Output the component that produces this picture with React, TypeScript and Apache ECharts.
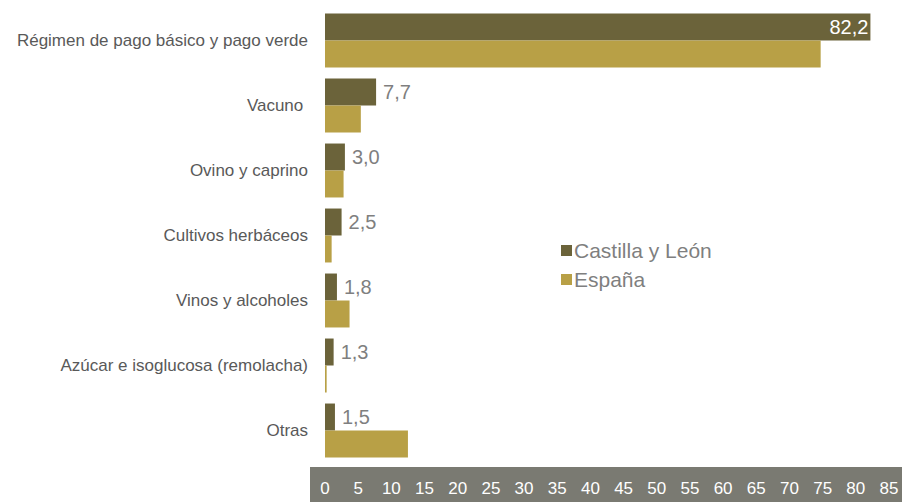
import React, { useEffect, useRef } from "react";
import * as echarts from "echarts";

const categories = [
  "Régimen de pago básico y pago verde",
  "Vacuno ",
  "Ovino y caprino",
  "Cultivos herbáceos",
  "Vinos y alcoholes",
  "Azúcar e isoglucosa (remolacha)",
  "Otras",
];
const castillaLeon = [82.2, 7.7, 3.0, 2.5, 1.8, 1.3, 1.5];
const espana = [74.7, 5.4, 2.8, 1.0, 3.7, 0.25, 12.5];
const seriesNames = ["Castilla y León", "España"];

const FONT = "'Liberation Sans', Arial, sans-serif";
const fmt = (v: number) => v.toFixed(1).replace(".", ",");

export default function App() {
  const ref = useRef<HTMLDivElement>(null);
  useEffect(() => {
    if (!ref.current) return;
    const chart = echarts.init(ref.current, undefined, { renderer: "svg" });
    chart.setOption({
      animation: false,
      textStyle: { fontFamily: FONT },
      graphic: [
        {
          type: "rect",
          shape: { x: 310, y: 467, width: 592, height: 35 },
          style: { fill: "#7a7a72" },
          z: 0,
          silent: true,
        },
      ],
      legend: {
        orient: "vertical",
        left: 556,
        top: 235,
        icon: "rect",
        itemWidth: 11,
        itemHeight: 11,
        itemGap: 8,
        textStyle: { fontSize: 21, color: "#7f7f7f", fontFamily: FONT, padding: [0, 0, 0, -3] },
        data: seriesNames,
      },
      grid: { left: 325, right: 13, top: 8, bottom: 39, containLabel: false },
      xAxis: {
        type: "value",
        min: 0,
        max: 85,
        interval: 5,
        splitLine: { show: false },
        axisLine: { show: false },
        axisTick: { show: false },
        axisLabel: { color: "#ffffff", fontSize: 17, margin: 17, fontFamily: FONT },
        z: 10,
      },
      yAxis: {
        type: "category",
        inverse: true,
        data: categories,
        axisLine: { show: false },
        axisTick: { show: false },
        axisLabel: { color: "#595959", fontSize: 17, margin: 17, fontFamily: FONT },
      },
      series: [
        {
          name: seriesNames[0],
          type: "bar",
          data: castillaLeon.map((v, i) =>
            i === 0
              ? {
                  value: v,
                  label: { position: "insideRight", color: "#ffffff", distance: 2 },
                }
              : v
          ),
          itemStyle: { color: "#6b633a" },
          barGap: "0%",
          barCategoryGap: "17%",
          label: {
            show: true,
            position: "right",
            distance: 7,
            color: "#7f7f7f",
            fontSize: 20,
            fontFamily: FONT,
            formatter: (p: any) => fmt(p.value),
          },
        },
        {
          name: seriesNames[1],
          type: "bar",
          data: espana,
          itemStyle: { color: "#b8a046" },
          barGap: "0%",
          barCategoryGap: "17%",
        },
      ],
    });
    return () => chart.dispose();
  }, []);
  return <div ref={ref} style={{ width: 902, height: 502, position: "absolute", left: 0, top: 0 }} />;
}
